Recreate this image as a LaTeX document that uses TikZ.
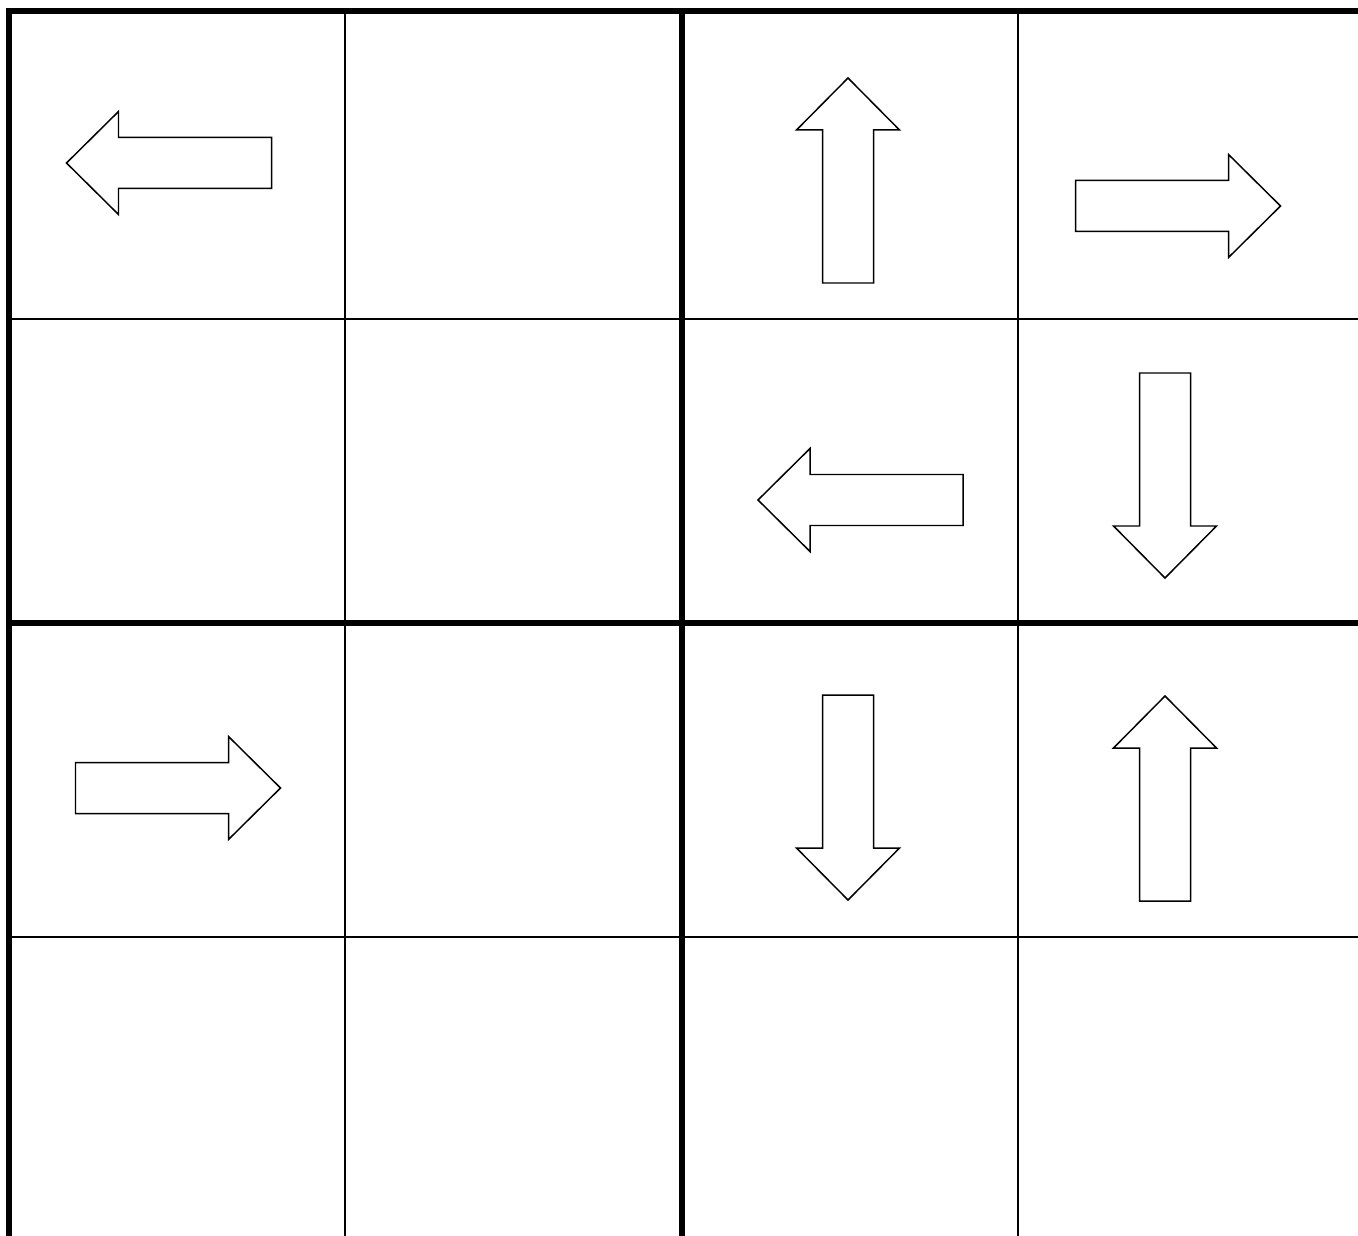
\documentclass[tikz,border=0pt]{standalone}
\usepackage{tikz}
\usetikzlibrary{calc}
\tikzset{
  gridThick/.style={line width=3.4pt, draw=black, line join=miter},
  gridThin/.style={line width=1.1pt, draw=black},
  arrowLine/.style={draw=black, fill=white, line width=0.85pt, line join=miter},
  blockarrow/.pic={
    \path[arrowLine] (-102.5,-25.5) -- (50.5,-25.5) -- (50.5,-51.5)
      -- (102.5,0) -- (50.5,51.5) -- (50.5,25.5) -- (-102.5,25.5) -- cycle;
  },
}

\begin{document}
\begin{tikzpicture}[x=0.02cm, y=-0.02cm]
    \clip (0,0) rectangle (1358,1236);
    \fill[white] (0,0) rectangle (1358,1236);
    % thin grid lines
    \foreach \gx in {345, 1018}
      \draw[gridThin] (\gx,11) -- (\gx,1240);
    \foreach \gy in {319, 937}
      \draw[gridThin] (9,\gy) -- (1360,\gy);
    % thick grid lines
    \draw[gridThick] (9,1240) -- (9,11) -- (1360,11);
    \draw[gridThick] (682,11) -- (682,1240);
    \draw[gridThick] (9,623) -- (1360,623);
    % arrows in the cells
    \pic[rotate=180] (leftA)  at (169,163)    {blockarrow};
    \pic[rotate=90]  (upA)    at (848,180.5)  {blockarrow};
    \pic             (rightA) at (1178,206)   {blockarrow};
    \pic[rotate=180] (leftB)  at (860.5,500)  {blockarrow};
    \pic[rotate=-90] (downA)  at (1165,475.5) {blockarrow};
    \pic             (rightB) at (178,788)    {blockarrow};
    \pic[rotate=-90] (downB)  at (848,797.5)  {blockarrow};
    \pic[rotate=90]  (upB)    at (1165,798.5) {blockarrow};
  \end{tikzpicture}
\end{document}
